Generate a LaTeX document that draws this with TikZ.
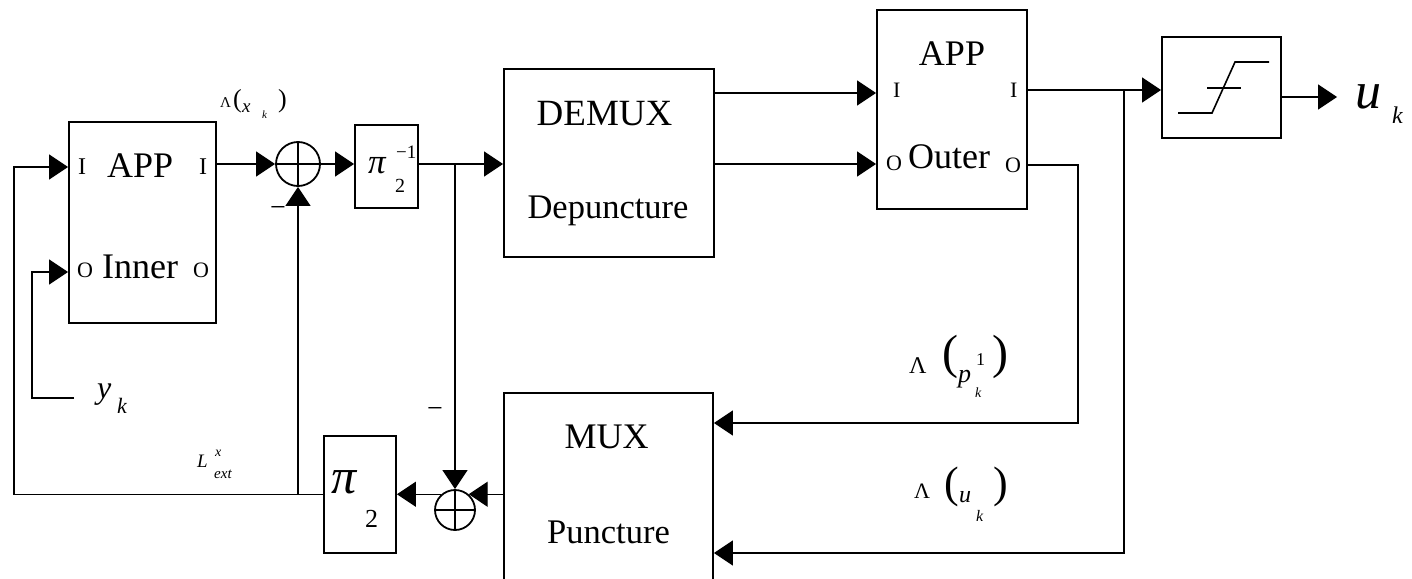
\documentclass[tikz,border=0pt]{standalone}
\usepackage{fontspec}
\setmainfont{Liberation Serif}
\usetikzlibrary{arrows.meta}
\newcommand{\fsz}[1]{\fontsize{#1}{#1}\selectfont}
\begin{document}
\begin{tikzpicture}[x=1pt,y=-1pt,
  box/.style={draw, line width=1.8pt, inner sep=0pt},
  wire/.style={line width=1.4pt},
  arr/.style={wire, -{Triangle[length=19pt,width=25pt]}},
  sum/.style={circle, draw, line width=1.8pt, inner sep=0pt,
    path picture={\draw[line width=1.8pt] (path picture bounding box.north) -- (path picture bounding box.south)
      (path picture bounding box.west) -- (path picture bounding box.east);}},
  lbl/.style={inner sep=0pt, anchor=base west},
  cbl/.style={inner sep=0pt, anchor=base},
]
\useasboundingbox (0,0) rectangle (1412,578);
\clip (0,0) rectangle (1412,578);

% blocks
\node[box, minimum width=147pt, minimum height=201pt] (inner) at (142.5,222.5) {};
\node[sum, minimum size=44pt] (s1) at (298,164) {};
\node[box, minimum width=63pt, minimum height=83pt] (pia) at (386.5,166.5) {};
\node[box, minimum width=210pt, minimum height=188pt] (demux) at (609,163) {};
\node[box, minimum width=150pt, minimum height=199pt] (outer) at (952,109.5) {};
\node[box, minimum width=119pt, minimum height=101pt] (sign) at (1221.5,87.5) {};
\node[box, minimum width=209pt, minimum height=220pt] (mux) at (608.5,503) {};
\node[sum, minimum size=40pt] (s2) at (455,510) {};
\node[box, minimum width=72pt, minimum height=117pt] (pib) at (360,494.5) {};
\coordinate (ykend) at (74,398);
\coordinate (uout) at (1337,97);
\coordinate (jt) at (1124,90);
\coordinate (jo) at (1078,165);

% sign function symbol
\draw[wire, line width=1.6pt] ([shift={(-43.5,25.5)}]sign.center) -- ++(34,0) -- ++(23,-51) -- ++(34,0);
\draw[wire, line width=1.6pt] ([shift={(-14.5,0.5)}]sign.center) -- ++(34,0);

% connectors
\draw[arr] (inner.east |- s1.west) -- (s1.west);
\draw[arr] (s1.east) -- (pia.west |- s1.east);
\draw[arr] (pia.east |- s1.east) -- (demux.west |- s1.east);
\draw[arr] (demux.east |- 0,93) -- (outer.west |- 0,93);
\draw[arr] (demux.east |- 0,164) -- (outer.west |- 0,164);
\draw[arr] (outer.east |- jt) -- (sign.west |- jt);
\draw[arr] (sign.east |- uout) -- (uout);
\draw[arr] (outer.east |- jo) -- (jo) |- (mux.east |- 0,423);
\draw[arr] (jt) |- (mux.east |- 0,553);
\draw[arr] (s2.north |- s1.east) -- (s2.north);
\draw[arr] (mux.west |- s2.49) -- (s2.49);
\draw[arr] (s2.131) -- (pib.east |- s2.131);
\draw[arr] (pib.west) -| (14,167) -- (inner.west |- 0,167);
\draw[arr] (s1.south |- pib.west) -- (s1.south);
\draw[arr] (ykend) -| (32,272) -- (inner.west |- 0,272);

% inner box texts
\node[lbl, font=\fsz{24}] (iI) at (78,174) {I};
\node[lbl, font=\fsz{36}] (iAPP) at (107,177) {APP};
\node[lbl, font=\fsz{24}] (iI2) at (199,174) {I};
\node[lbl, font=\fsz{22}] (iO) at (77,277) {O};
\node[lbl, font=\fsz{36}] (iInner) at (102,278) {Inner};
\node[lbl, font=\fsz{22}] (iO2) at (193,277) {O};

% outer box texts
\node[cbl, font=\fsz{36}] (oAPP) at (952,65) {APP};
\node[lbl, font=\fsz{22}] (oI) at (893,97) {I};
\node[lbl, font=\fsz{22}] (oO) at (886,170) {O};
\node[lbl, font=\fsz{36}] (oOuter) at (908,168) {Outer};
\node[lbl, font=\fsz{22}] (oI2) at (1010,97) {I};
\node[lbl, font=\fsz{22}] (oO2) at (1005,172) {O};

% demux / mux texts
\node[cbl, font=\fsz{37}] (tdemux) at (604.5,125) {DEMUX};
\node[cbl, font=\fsz{34.5}] (tdep) at (608,218) {Depuncture};
\node[cbl, font=\fsz{36}] (tmux) at (606.5,448) {MUX};
\node[cbl, font=\fsz{34.5}] (tpunc) at (608.5,543) {Puncture};

% interleavers
\node[lbl, font=\fsz{35}\itshape] (piaP) at (368,173) {π};
\node[lbl, font=\fsz{19}] (piaE) at (396,158) {−1};
\node[lbl, font=\fsz{20}] (piaS) at (395,192) {2};
\node[lbl, font=\fsz{50}\itshape] (pibP) at (331,493) {π};
\node[lbl, font=\fsz{26}] (pibS) at (365,527) {2};

% minus signs
\node[inner sep=0pt, font=\fsz{28}] (m1) at (278,212) {−};
\node[inner sep=0pt, font=\fsz{28}] (m2) at (435,412) {−};

% Lambda(x_k)
\node[lbl, font=\fsz{15}] (lx1) at (220,107) {Λ};
\node[lbl, font=\fsz{26}] (lx2) at (233,107) {(};
\node[lbl, font=\fsz{19}\itshape] (lx3) at (242,112) {x};
\node[lbl, font=\fsz{11}\itshape] (lx4) at (262,118) {k};
\node[lbl, font=\fsz{26}] (lx5) at (278,107) {)};

% L^x_ext
\node[lbl, font=\fsz{19}\itshape] (le1) at (197,467) {L};
\node[lbl, font=\fsz{14}\itshape] (le2) at (215,456) {x};
\node[lbl, font=\fsz{15}\itshape] (le3) at (214,478) {ext};

% y_k
\node[lbl, font=\fsz{32}\itshape] (yk1) at (97,398) {y};
\node[lbl, font=\fsz{22}\itshape] (yk2) at (117,413) {k};

% u_k
\node[lbl, font=\fsz{52}\itshape] (uk1) at (1355,108) {u};
\node[lbl, font=\fsz{24}\itshape] (uk2) at (1392,123) {k};

% Lambda(p_k^1)
\node[lbl, font=\fsz{24}] (lp1) at (909,373) {Λ};
\node[lbl, font=\fsz{48}] (lp2) at (942,368) {(};
\node[lbl, font=\fsz{26}\itshape] (lp3) at (958,382) {p};
\node[lbl, font=\fsz{18}] (lp4) at (976,365) {1};
\node[lbl, font=\fsz{14}\itshape] (lp5) at (975,397) {k};
\node[lbl, font=\fsz{48}] (lp6) at (992,368) {)};

% Lambda(u_k)
\node[lbl, font=\fsz{22}] (lu1) at (914,498) {Λ};
\node[lbl, font=\fsz{44}] (lu2) at (944,497) {(};
\node[lbl, font=\fsz{24}\itshape] (lu3) at (959,502) {u};
\node[lbl, font=\fsz{16}\itshape] (lu4) at (976,521) {k};
\node[lbl, font=\fsz{44}] (lu5) at (993,497) {)};
\end{tikzpicture}
\end{document}
